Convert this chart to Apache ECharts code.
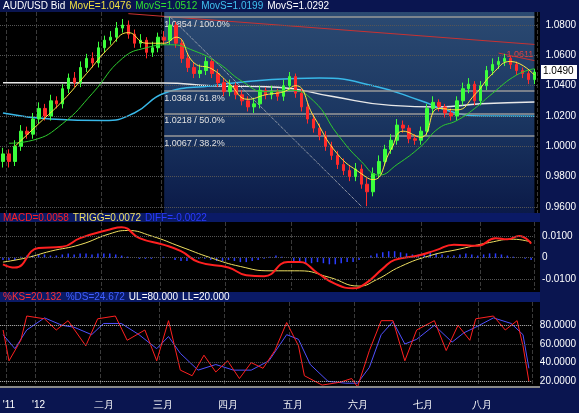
<!DOCTYPE html>
<html>
<head>
<meta charset="utf-8">
<script src="https://cdn.jsdelivr.net/npm/echarts@6/dist/echarts.min.js"></script>
<style>html,body{margin:0;padding:0;background:#000}#chart{width:579px;height:413px}</style>
</head>
<body>
<div id="chart"></div>
<script>
// month labels on the bottom axis (candle index -> label)
const monthIdx = [1, 6, 17, 27, 38, 49, 60, 71, 81];
const monthNames = ["'11", "'12", "二月", "三月", "四月", "五月", "六月", "七月", "八月"];

const opens = [0.990,0.995,0.990,1.000,1.010,1.008,1.018,1.025,1.020,1.030,1.028,1.038,1.045,1.042,1.052,1.058,1.055,1.065,1.070,1.072,1.078,1.080,1.074,1.068,1.070,1.062,1.065,1.072,1.070,1.080,1.068,1.058,1.052,1.048,1.050,1.056,1.048,1.042,1.036,1.040,1.034,1.030,1.026,1.028,1.037,1.034,1.036,1.033,1.040,1.046,1.035,1.026,1.018,1.012,1.007,1.000,0.994,0.988,0.984,0.980,0.985,0.975,0.970,0.982,0.990,0.998,1.004,1.014,1.012,1.005,1.004,1.010,1.025,1.029,1.026,1.022,1.020,1.030,1.038,1.041,1.030,1.040,1.050,1.054,1.056,1.058,1.054,1.050,1.048,1.044];
const closes = [0.995,0.990,1.000,1.010,1.008,1.018,1.025,1.020,1.030,1.028,1.038,1.045,1.042,1.052,1.058,1.055,1.065,1.070,1.072,1.078,1.080,1.074,1.068,1.070,1.062,1.065,1.072,1.070,1.080,1.068,1.058,1.052,1.048,1.050,1.056,1.048,1.042,1.036,1.040,1.034,1.030,1.026,1.028,1.037,1.034,1.036,1.033,1.040,1.046,1.035,1.026,1.018,1.012,1.007,1.000,0.994,0.988,0.984,0.980,0.985,0.975,0.970,0.982,0.990,0.998,1.004,1.014,1.012,1.005,1.004,1.010,1.025,1.029,1.026,1.022,1.020,1.030,1.038,1.041,1.030,1.040,1.050,1.054,1.056,1.058,1.054,1.050,1.048,1.044,1.049];
const highs = [0.999,0.998,1.004,1.014,1.013,1.022,1.029,1.028,1.034,1.033,1.041,1.048,1.049,1.056,1.061,1.062,1.069,1.073,1.076,1.082,1.084,1.083,1.077,1.074,1.072,1.069,1.075,1.076,1.0854,1.082,1.071,1.061,1.055,1.054,1.059,1.058,1.051,1.045,1.044,1.042,1.037,1.033,1.032,1.040,1.039,1.040,1.038,1.044,1.049,1.048,1.038,1.029,1.021,1.015,1.010,1.003,0.997,0.992,0.987,0.989,0.988,0.979,0.986,0.994,1.001,1.008,1.018,1.017,1.014,1.008,1.013,1.028,1.033,1.031,1.028,1.025,1.033,1.042,1.045,1.043,1.043,1.053,1.058,1.059,1.061,1.060,1.056,1.052,1.050,1.051];
const lows = [0.986,0.986,0.987,0.997,1.005,1.005,1.015,1.017,1.017,1.025,1.025,1.035,1.039,1.039,1.049,1.052,1.052,1.062,1.067,1.069,1.075,1.071,1.065,1.065,1.058,1.059,1.062,1.067,1.067,1.065,1.055,1.049,1.045,1.045,1.047,1.045,1.039,1.033,1.033,1.031,1.027,1.023,1.022,1.025,1.031,1.031,1.030,1.030,1.037,1.032,1.023,1.015,1.009,1.004,0.997,0.991,0.985,0.981,0.977,0.977,0.972,0.9605,0.967,0.979,0.987,0.995,1.001,1.009,1.002,1.001,1.001,1.007,1.022,1.023,1.019,1.017,1.017,1.027,1.035,1.027,1.027,1.037,1.047,1.051,1.053,1.051,1.047,1.045,1.041,1.041];

// moving averages, [candle index, value]
const movE = [[2,1.000],[6,1.015],[10,1.030],[14,1.048],[18,1.066],[21,1.075],[24,1.068],[27,1.068],[29,1.072],[32,1.055],[35,1.051],[38,1.041],[41,1.031],[44,1.034],[47,1.036],[49,1.040],[52,1.020],[56,0.995],[60,0.982],[62,0.978],[65,0.998],[67,1.010],[70,1.006],[73,1.025],[76,1.024],[79,1.034],[82,1.048],[85,1.056],[89,1.047]];
const movS1 = [[1,1.002],[5,1.004],[10,1.015],[15,1.035],[20,1.058],[24,1.065],[28,1.067],[32,1.063],[36,1.055],[40,1.043],[44,1.036],[48,1.037],[52,1.030],[56,1.008],[60,0.990],[63,0.981],[66,0.988],[70,1.000],[73,1.012],[76,1.017],[79,1.025],[82,1.035],[86,1.047],[89,1.0512]];
const movS2 = [[0,1.022],[8,1.018],[17,1.017],[22,1.022],[27,1.035],[35,1.040],[45,1.044],[53,1.045],[62,1.040],[70,1.030],[75,1.023],[80,1.020],[89,1.0199]];
const movS3 = [[0,1.042],[27,1.0418],[35,1.040],[46,1.039],[55,1.033],[65,1.027],[73,1.026],[80,1.028],[89,1.0292]];
const trendLine = [[21,1.0875],[89,1.0672]];
const trendLine2 = [[83,1.0615],[89,1.0565]];
const fallLine = [[28,1.0854],[60,0.9605]];
const fibLevels = [1.0854, 1.0368, 1.0218, 1.0067];
const fibPct = ["100.0%", "61.8%", "50.0%", "38.2%"];
const priceTicks = [0.96, 0.98, 1.00, 1.02, 1.04, 1.06, 1.08];

const macd = [[0,-0.003],[2,-0.0045],[6,0.0045],[10,0.005],[13,0.009],[18,0.013],[20,0.014],[23,0.009],[27,0.006],[30,0.003],[33,-0.002],[38,-0.0045],[41,-0.008],[44,-0.0085],[48,-0.002],[50,-0.002],[53,-0.007],[56,-0.012],[59,-0.014],[61,-0.012],[64,-0.005],[66,-0.001],[70,0.001],[73,0.0035],[76,0.006],[80,0.0055],[83,0.009],[85,0.0085],[87,0.010],[89,0.0065]];
const trigg = [[0,-0.002],[4,0.000],[8,0.003],[13,0.006],[18,0.011],[21,0.0125],[25,0.010],[30,0.005],[35,0.000],[40,-0.004],[45,-0.006],[50,-0.006],[55,-0.009],[60,-0.013],[63,-0.010],[67,-0.004],[72,0.001],[77,0.004],[82,0.007],[86,0.0085],[89,0.0072]];
const diff = [-0.001,-0.001,-0.001,0.0005,0.001,0.001,0.0015,0.0015,0.001,0.001,0.0015,0.002,0.0015,0.002,0.002,0.0015,0.002,0.002,0.002,0.0015,0.001,0.0005,0,-0.0005,-0.0005,-0.0005,0,0.0005,0,-0.001,-0.0015,-0.0015,-0.001,-0.0005,-0.0005,-0.001,-0.0015,-0.0015,-0.001,-0.0015,-0.002,-0.002,-0.0015,-0.001,-0.0005,0.0005,0.001,0.0005,0,-0.0015,-0.002,-0.0025,-0.0025,-0.002,-0.0025,-0.003,-0.003,-0.0025,-0.002,-0.002,-0.001,0,0.001,0.002,0.0025,0.003,0.003,0.0025,0.002,0.0015,0.0015,0.002,0.0025,0.002,0.0015,0.001,0.001,0.0015,0.002,0.0015,0.001,0.0015,0.002,0.002,0.0015,0.001,0.0005,0,-0.0005,-0.001];
const macdTicks = [-0.01, 0, 0.01];

const stochK = [[0,75],[1,42],[3,64],[4,90],[7,87],[9,75],[11,85],[14,58],[16,87],[19,90],[21,64],[24,75],[26,42],[28,85],[30,32],[32,26],[34,48],[36,30],[38,42],[40,23],[42,40],[44,34],[46,53],[48,83],[50,58],[51,26],[54,16],[57,19],[59,23],[60,14],[62,53],[64,85],[66,85],[68,42],[70,75],[73,85],[75,53],[77,80],[79,64],[80,87],[83,90],[85,75],[87,85],[88,58],[89,20]];
const stochD = [[0,70],[2,55],[4,75],[7,88],[10,80],[12,78],[15,70],[17,82],[20,82],[23,70],[26,55],[28,68],[30,50],[33,32],[36,38],[39,32],[42,32],[45,42],[48,70],[50,65],[52,38],[55,20],[58,18],[60,18],[62,35],[64,70],[66,84],[68,60],[70,65],[73,80],[76,62],[78,72],[80,78],[83,88],[86,82],[88,70],[89,34]];
const stochTicks = [20, 40, 60, 80];

const cats = closes.map((c, i) => {
    const k = monthIdx.indexOf(i);
    return k >= 0 ? monthNames[k] : "";
});
const candles = closes.map((c, i) => [opens[i], c, lows[i], highs[i]]);

const grids = [
    {left: 0, right: 39, top: 12, height: 201},
    {left: 0, right: 39, top: 222, height: 68},
    {left: 0, right: 39, top: 302, height: 84}
];
const vLines = {show: true, interval: (i) => monthIdx.indexOf(i) >= 0, lineStyle: {color: "#3a3a3a", type: "dashed"}};
const xAxes = grids.map((g, k) => ({
    type: "category", gridIndex: k, data: cats, boundaryGap: true,
    axisLine: {show: false}, axisTick: {show: false},
    splitLine: vLines,
    axisLabel: k === 2 ? {show: true, interval: 0, color: "#fff", fontSize: 10, margin: 14, fontFamily: "Liberation Sans"} : {show: false}
}));
function yAx(k, min, max, ticks, fmt) {
    return {
        type: "value", gridIndex: k, position: "right", min: min, max: max, scale: true,
        axisLine: {show: false}, axisTick: {show: false}, splitLine: {show: false},
        axisLabel: {customValues: ticks, color: "#fff", fontSize: 10, margin: 8, formatter: fmt, fontFamily: "Liberation Sans"}
    };
}
const yAxes = [
    yAx(0, 0.956, 1.0886, priceTicks, v => v.toFixed(4)),
    yAx(1, -0.0148, 0.0164, macdTicks, v => v === 0 ? "0" : v.toFixed(4)),
    yAx(2, 15, 105, stochTicks, v => v.toFixed(4))
];
const dots = {color: "#555", type: "dotted", width: 1};
function gridMarks(ticks) {
    return {silent: true, symbol: "none", label: {show: false}, lineStyle: dots, data: ticks.map(t => ({yAxis: t}))};
}

const fibMarks = fibLevels.map((v, i) => [
    {coord: [27, v], label: {show: true, position: "insideStartBottom", formatter: v.toFixed(4) + " / " + fibPct[i], color: "#e0e0e0", fontSize: 9, fontFamily: "Liberation Sans", distance: [0, 3]}},
    {coord: [89, v]}
]);

const option = {
    backgroundColor: "#000",
    animation: false,
    grid: grids,
    xAxis: xAxes,
    yAxis: yAxes,
    series: [
        {
            type: "candlestick", xAxisIndex: 0, yAxisIndex: 0, data: candles, barWidth: 3,
            itemStyle: {color: "#3cff3c", color0: "#ff2a2a", borderColor: "#3cff3c", borderColor0: "#ff2a2a"},
            markArea: {silent: true, data: [[
                {xAxis: 27, yAxis: 1.0886, itemStyle: {color: new echarts.graphic.LinearGradient(0, 0, 0, 1, [{offset: 0, color: "#2b4a72"}, {offset: 0.55, color: "#1a3560"}, {offset: 1, color: "#0b1a48"}])}},
                {xAxis: 89, yAxis: 0.956}
            ]]},
            markLine: {silent: true, symbol: "none", lineStyle: {color: "#999", type: "solid", width: 1.5}, data: fibMarks},
            z: 5
        },
        {type: "line", xAxisIndex: 0, yAxisIndex: 0, data: [], markLine: gridMarks(priceTicks), z: 1},
        {type: "line", xAxisIndex: 0, yAxisIndex: 0, data: movS3, symbol: "none", smooth: true, lineStyle: {color: "#e8e8e8", width: 1.5}, z: 3},
        {type: "line", xAxisIndex: 0, yAxisIndex: 0, data: movS2, symbol: "none", smooth: true, lineStyle: {color: "#38b8e8", width: 1.5}, z: 3},
        {type: "line", xAxisIndex: 0, yAxisIndex: 0, data: movS1, symbol: "none", smooth: true, lineStyle: {color: "#2ecc2e", width: 1}, z: 6},
        {type: "line", xAxisIndex: 0, yAxisIndex: 0, data: movE, symbol: "none", smooth: true, lineStyle: {color: "#ffe640", width: 1}, z: 7},
        {type: "line", xAxisIndex: 0, yAxisIndex: 0, data: trendLine, symbol: "none", lineStyle: {color: "#c83232", width: 1},
            endLabel: {show: true, formatter: "1.0611", color: "#e04040", fontSize: 9, offset: [-36, 10]}, z: 4},
        {type: "line", xAxisIndex: 0, yAxisIndex: 0, data: trendLine2, symbol: "none", lineStyle: {color: "#c83232", width: 1}, z: 4},
        {type: "line", xAxisIndex: 0, yAxisIndex: 0, data: fallLine, symbol: "none", lineStyle: {color: "#ccc", width: 1, type: "dotted"}, z: 4},

        {type: "bar", xAxisIndex: 1, yAxisIndex: 1, data: diff, barWidth: 1.5, itemStyle: {color: "#2a3cff"},
            markLine: gridMarks(macdTicks)},
        {type: "line", xAxisIndex: 1, yAxisIndex: 1, data: trigg, symbol: "none", smooth: true, lineStyle: {color: "#f0e060", width: 1}},
        {type: "line", xAxisIndex: 1, yAxisIndex: 1, data: macd, symbol: "none", smooth: true, lineStyle: {color: "#ff2020", width: 2}},

        {type: "line", xAxisIndex: 2, yAxisIndex: 2, data: stochD, symbol: "none", lineStyle: {color: "#5050ff", width: 1},
            markLine: {silent: true, symbol: "none", label: {show: false}, data: [
                {yAxis: 80, lineStyle: {color: "#bbb", type: "dotted", width: 1}},
                {yAxis: 20, lineStyle: {color: "#bbb", type: "dotted", width: 1}},
                {yAxis: 40, lineStyle: dots}, {yAxis: 60, lineStyle: dots}]}},
        {type: "line", xAxisIndex: 2, yAxisIndex: 2, data: stochK, symbol: "none", lineStyle: {color: "#ff2020", width: 1}}
    ]
};

const chart = echarts.init(document.getElementById("chart"));
chart.setOption(option);

// header line: each part as its own text, placed after the previous one
function header(x, y, parts) {
    const out = [];
    let cx = x;
    parts.forEach(p => {
        const font = "10px Liberation Sans";
        const w = echarts.format.getTextRect ? echarts.format.getTextRect(p[0], font).width : p[0].length * 5.5;
        out.push({type: "text", x: cx, y: y, z: 100, style: {text: p[0], fill: p[1], font: font}});
        cx += w + 4;
    });
    return out;
}
const lastY = chart.convertToPixel({xAxisIndex: 0, yAxisIndex: 0}, [89, closes[89]])[1];
chart.setOption({
    graphic: [
        {type: "rect", shape: {x: 540, y: 0, width: 39, height: 413}, style: {fill: "#0a1550"}, z: -1, silent: true},
        {type: "rect", shape: {x: 0, y: 0, width: 579, height: 12}, style: {fill: "#0a1550"}, z: 50},
        {type: "rect", shape: {x: 0, y: 213, width: 540, height: 9}, style: {fill: "#0a1a66"}, z: 50},
        {type: "rect", shape: {x: 0, y: 292, width: 540, height: 10}, style: {fill: "#0a1a66"}, z: 50},
        {type: "rect", shape: {x: 0, y: 387, width: 579, height: 26}, style: {fill: "#0a1550"}, z: -1},
        {type: "rect", shape: {x: 0, y: 386, width: 540, height: 2}, style: {fill: "#888"}, z: 50},
        ...header(3, 1, [["AUD/USD Bid", "#fff"], ["MovE=1.0476", "#f0e040"], ["MovS=1.0512", "#30e030"], ["MovS=1.0199", "#40c0f0"], ["MovS=1.0292", "#fff"]]),
        ...header(3, 213, [["MACD=0.0058", "#ff2020"], ["TRIGG=0.0072", "#f0e060"], ["DIFF=-0.0022", "#2a3cff"]]),
        ...header(3, 292, [["%KS=20.132", "#ff3030"], ["%DS=24.672", "#4060ff"], ["UL=80.000", "#fff"], ["LL=20.000", "#fff"]]),
        {type: "rect", shape: {x: 541, y: lastY - 7, width: 36, height: 14}, style: {fill: "#fff"}, z: 100},
        {type: "text", x: 543, y: lastY - 6, z: 101, style: {text: "1.0490", fill: "#000", font: "10px Liberation Sans"}}
    ]
});
</script>
</body>
</html>
